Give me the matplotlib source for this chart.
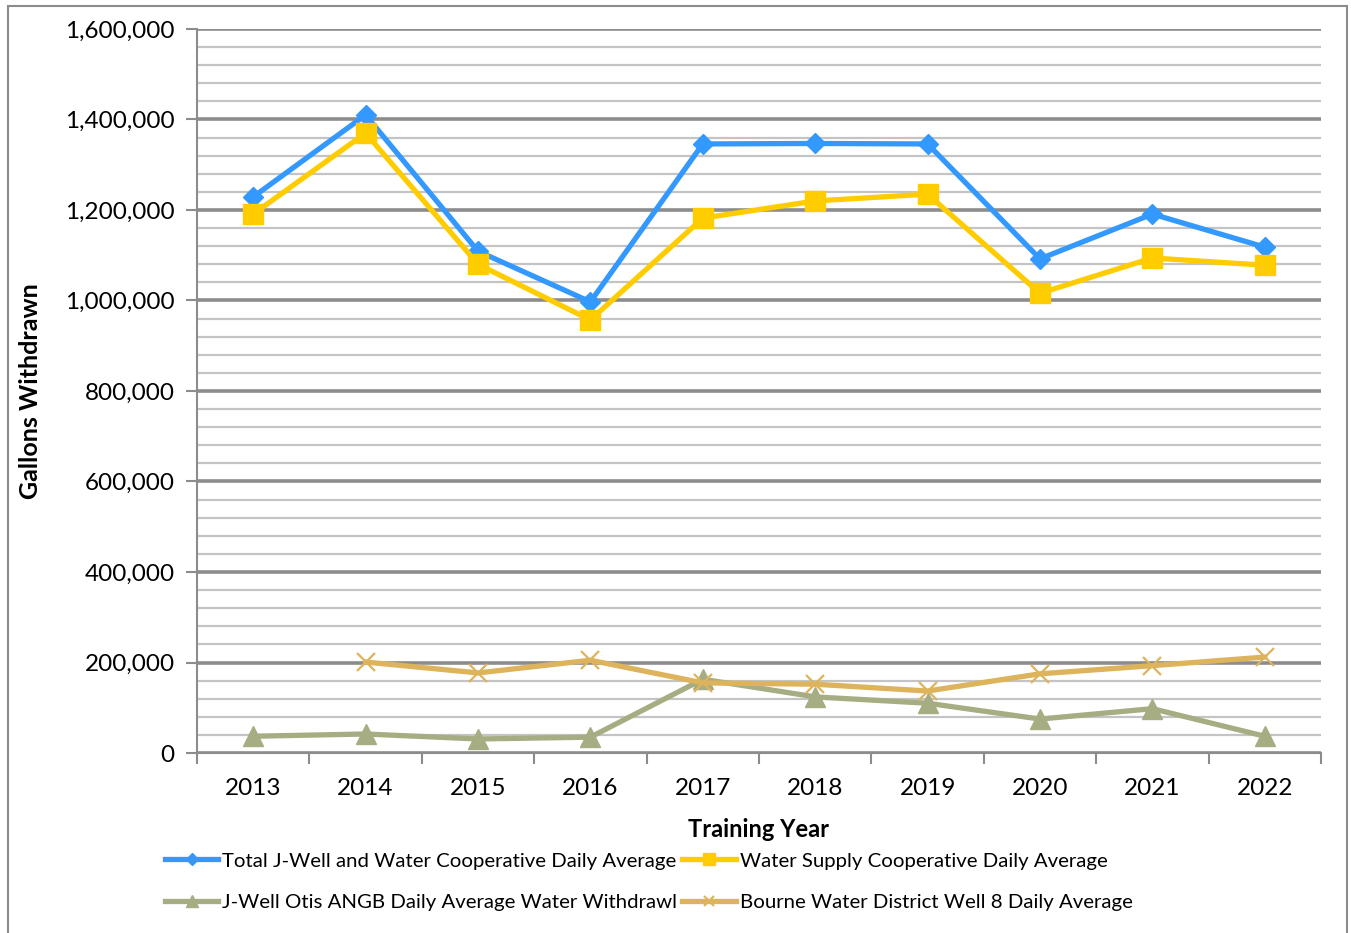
import numpy as np
import matplotlib
matplotlib.use("Agg")
import matplotlib.pyplot as plt
from matplotlib.patches import Rectangle
from matplotlib.ticker import FuncFormatter, MultipleLocator

plt.rcParams['font.family'] = ['Lato', 'DejaVu Sans']

years = ['2013', '2014', '2015', '2016', '2017', '2018', '2019', '2020', '2021', '2022']
total = [1229000, 1410000, 1109000, 997000, 1346000, 1347000, 1346000, 1092000, 1191000, 1118000]
supply = [1191000, 1370000, 1080000, 957000, 1182000, 1220000, 1235000, 1016000, 1094000, 1078000]
otis = [37000, 42000, 31000, 35000, 163000, 124000, 110000, 75000, 98000, 37000]
bourne = [np.nan, 201000, 177000, 205000, 155000, 152000, 137000, 175000, 193000, 212000]

labels = ['Total J-Well and Water Cooperative Daily Average',
          'Water Supply Cooperative Daily Average',
          'J-Well Otis ANGB Daily Average Water Withdrawl',
          'Bourne Water District Well 8 Daily Average']

fig = plt.figure(figsize=(13.51, 9.33), dpi=100)
ax = fig.add_axes([197/1351, 1 - 753/933, 1124/1351, 724/933])

x = np.arange(len(years))
l1, = ax.plot(x, total, '-D', color='#3399FF', lw=3.8, ms=10, label=labels[0], zorder=4)
l2, = ax.plot(x, supply, '-s', color='#FFCC00', lw=3.8, ms=14, label=labels[1], zorder=5)
l3, = ax.plot(x, otis, '-^', color='#A6AD82', lw=3.8, ms=14, label=labels[2], zorder=6)
l4, = ax.plot(x, bourne, '-x', color='#DDB35C', lw=3.8, ms=13, mew=1.6, label=labels[3], zorder=7)

ax.set_xlim(-0.5, 9.5)
ax.set_ylim(0, 1600000)
ax.yaxis.set_major_locator(MultipleLocator(200000))
ax.yaxis.set_minor_locator(MultipleLocator(40000))
ax.yaxis.set_major_formatter(FuncFormatter(lambda v, p: f'{int(v):,}'))
ax.grid(axis='y', which='minor', color='#C4C4C4', lw=1.6, zorder=1)
ax.grid(axis='y', which='major', color='#8C8C8C', lw=2.6, zorder=2)
ax.set_axisbelow(True)

ax.set_xticks(x)
ax.set_xticklabels(years)
ax.set_xticks(np.arange(-0.5, 10, 1), minor=True)
ax.tick_params(axis='x', which='major', length=0, labelsize=17.5, pad=18)
ax.tick_params(axis='x', which='minor', length=8, color='#8C8C8C', width=1.5)
ax.tick_params(axis='y', which='major', length=8, color='#8C8C8C', width=1.5, labelsize=17.5, pad=8)
ax.tick_params(axis='y', which='minor', length=0)

for s in ['top', 'right']:
    ax.spines[s].set_visible(False)
for s in ['left', 'bottom']:
    ax.spines[s].set_color('#8C8C8C')
    ax.spines[s].set_linewidth(1.5)

ax.set_xlabel('Training Year', fontsize=17, fontweight='bold', labelpad=14)
ax.set_ylabel('Gallons Withdrawn', fontsize=18, fontweight='bold', labelpad=17)

fig.legend(handles=[l1, l3, l2, l4], loc='upper left', bbox_to_anchor=(155/1351, 1 - 842/933),
           ncol=2, frameon=False, fontsize=14.7, handlelength=2.6, handletextpad=0.2,
           columnspacing=0.25, labelspacing=1.2, borderpad=0, markerscale=0.6)

fig.patches.append(Rectangle((8/1351, -0.01), 1339/1351, 1 - 6/933 + 0.01, transform=fig.transFigure,
                             fill=False, edgecolor='#8C8C8C', lw=1.5))

fig.savefig('out.png', dpi=100)
